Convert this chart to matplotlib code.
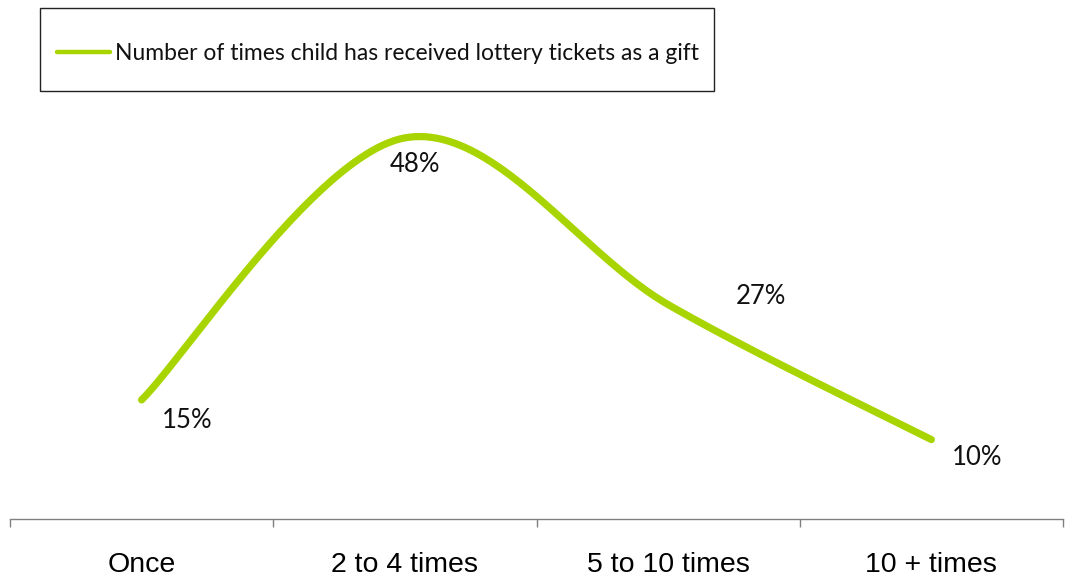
import numpy as np
import matplotlib
matplotlib.use("Agg")
import matplotlib.pyplot as plt
from matplotlib.patches import Rectangle
from matplotlib.lines import Line2D

categories = ["Once", "2 to 4 times", "5 to 10 times", "10 + times"]
values = [15, 48, 27, 10]
value_labels = ["15%", "48%", "27%", "10%"]
series_name = "Number of times child has received lottery tickets as a gift"

GREEN = "#A8D400"

W, H = 1072, 578
fig = plt.figure(figsize=(W / 100, H / 100), dpi=100)

def fx(px):
    return px / W

def fy(py):
    return 1 - py / H

ax_left, ax_right = 10, 1063
ax_bottom, ax_top = 519, 42.6
ax = fig.add_axes([fx(ax_left), fy(ax_bottom), (ax_right - ax_left) / W, (ax_bottom - ax_top) / H])

x = np.arange(1, len(categories) + 1, dtype=float)
y = np.array(values, dtype=float)

# Excel-style smoothed line (Catmull-Rom Bezier)
P = np.column_stack([x, y])
Pext = np.vstack([P[0], P, P[-1]])
curve = []
t = np.linspace(0, 1, 60)
for i in range(len(P) - 1):
    p0 = Pext[i + 1]
    p3 = Pext[i + 2]
    c1 = p0 + (Pext[i + 2] - Pext[i]) / 6.0
    c2 = p3 - (Pext[i + 3] - Pext[i + 1]) / 6.0
    seg = ((1 - t) ** 3)[:, None] * p0 + (3 * (1 - t) ** 2 * t)[:, None] * c1 \
        + (3 * (1 - t) * t ** 2)[:, None] * c2 + (t ** 3)[:, None] * p3
    curve.append(seg if i == 0 else seg[1:])
curve = np.vstack(curve)
ax.plot(curve[:, 0], curve[:, 1], color=GREEN, lw=5.2, solid_capstyle="round",
        solid_joinstyle="round")

ax.set_xlim(0.5, len(categories) + 0.5)
ax.set_ylim(0, 60)

# Data labels
offsets = [(33, -15), (7, -19.5), (67, 6), (33, -13)]
for xi, yi, lab, (dx, dy) in zip(x, y, value_labels, offsets):
    ax.annotate(lab, (xi, yi), xytext=(dx, dy), textcoords="offset points",
                ha="center", va="center", fontsize=18.5, family=["Lato", "DejaVu Sans"],
                color="#111111")

# Axis styling
for s in ["top", "right", "left"]:
    ax.spines[s].set_visible(False)
ax.spines["bottom"].set_color("#808080")
ax.spines["bottom"].set_linewidth(1.0)
ax.set_yticks([])
ax.set_xticks(np.arange(0.5, len(categories) + 1.0, 1.0))
ax.set_xticklabels([])
ax.set_xticks(x, minor=True)
ax.set_xticklabels(categories, minor=True)
ax.tick_params(axis="x", which="major", length=6, color="#808080", width=1.0, direction="out")
ax.tick_params(axis="x", which="minor", length=0, pad=24, labelsize=20.5)
for lbl in ax.get_xticklabels(minor=True):
    lbl.set_family(["Liberation Sans", "DejaVu Sans"])

# Legend (manual box)
fig.add_artist(Rectangle((fx(40), fy(91)), (714 - 40) / W, (91 - 8) / H,
                         transform=fig.transFigure, fill=False, edgecolor="#222222", lw=1.0))
fig.add_artist(Line2D([fx(57), fx(110)], [fy(52), fy(52)], transform=fig.transFigure,
                      color=GREEN, lw=3.2, solid_capstyle="round"))
fig.text(fx(115), fy(53), series_name, ha="left", va="center", fontsize=16.5,
         family=["Lato", "DejaVu Sans"], color="#111111")

fig.savefig("out.png", dpi=100)
